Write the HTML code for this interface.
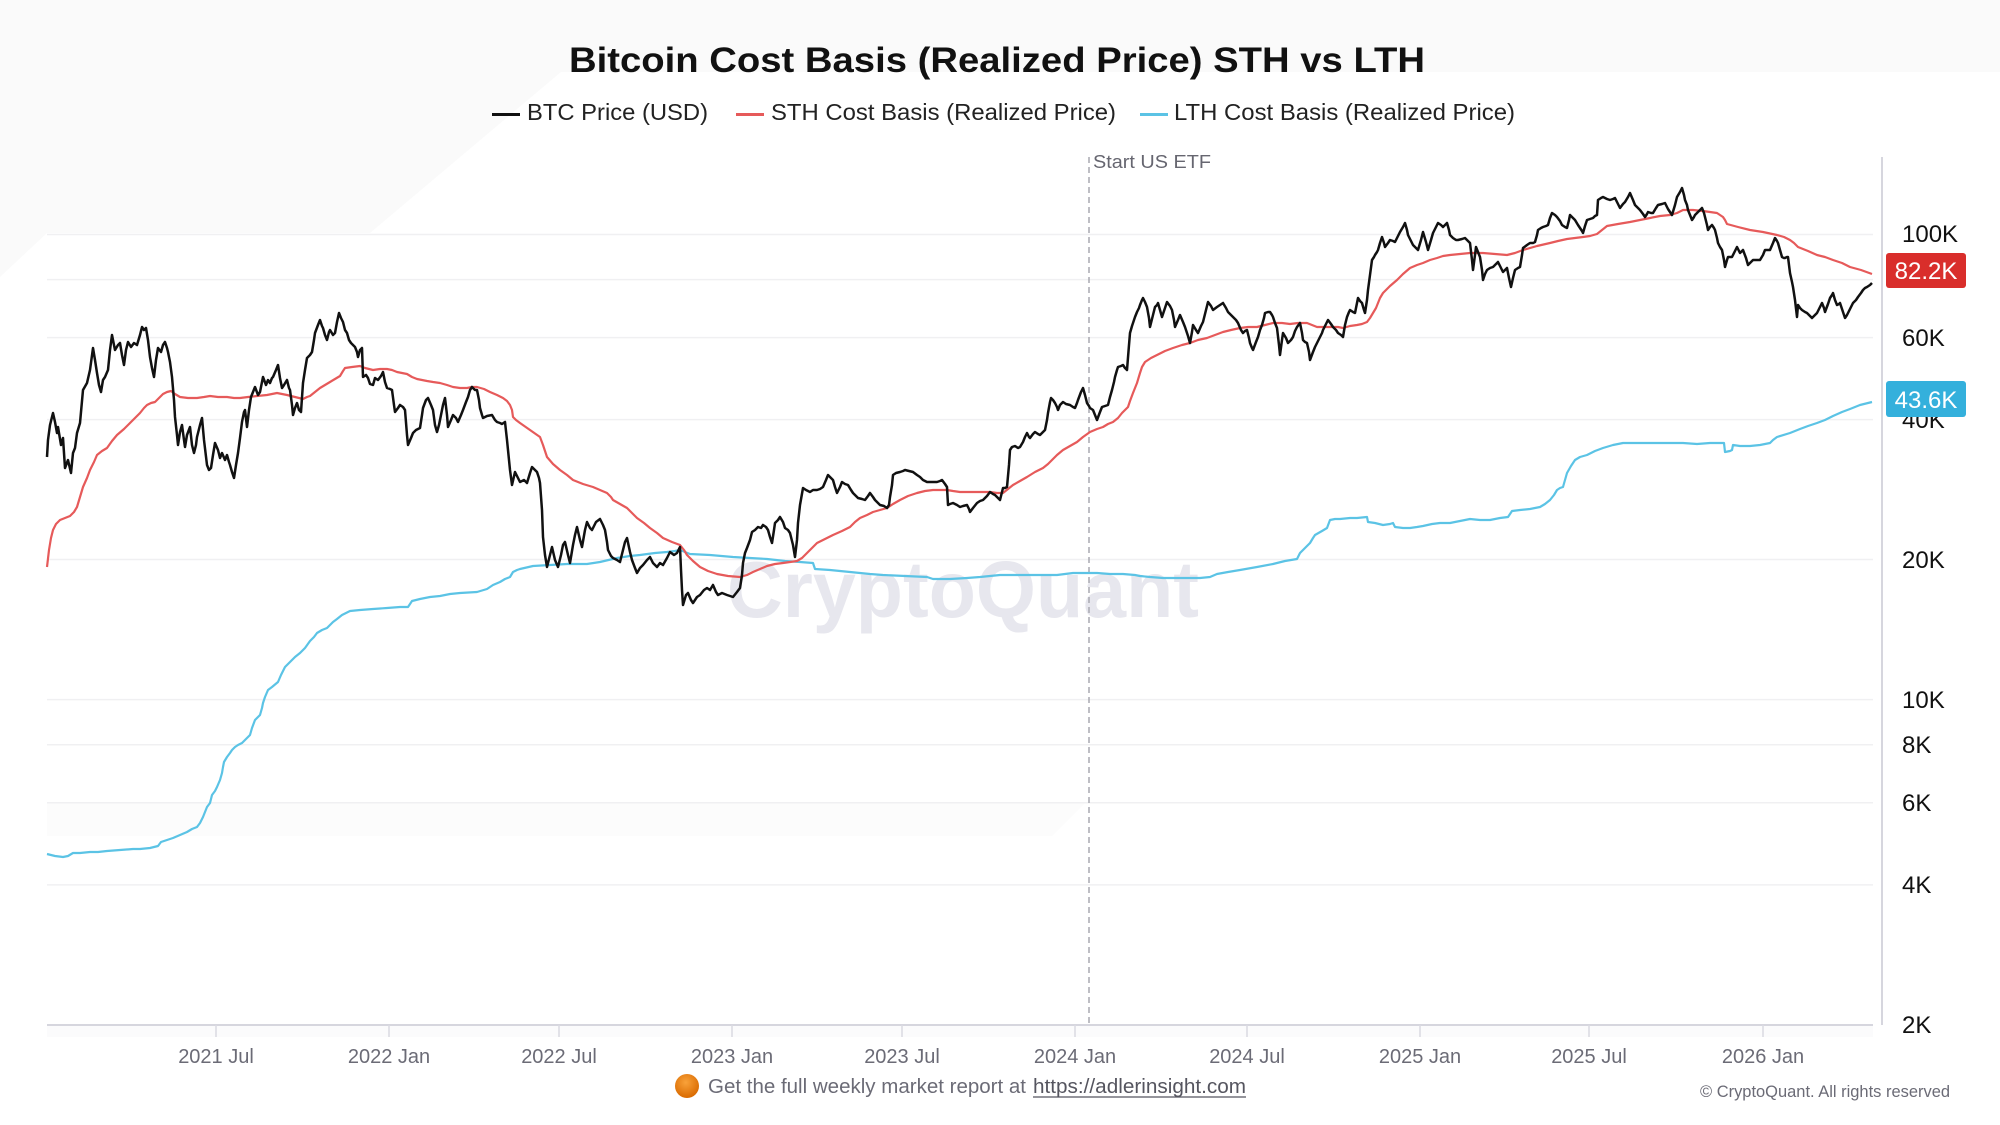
<!DOCTYPE html>
<html>
<head>
<meta charset="utf-8">
<style>
html,body{margin:0;padding:0;background:#fff;}
body{width:2000px;height:1125px;overflow:hidden;}
svg{display:block;font-family:"Liberation Sans",Arial,sans-serif;}
</style>
</head>
<body>
<svg width="2000" height="1125" viewBox="0 0 2000 1125" xmlns="http://www.w3.org/2000/svg">
<rect x="0" y="0" width="2000" height="1125" fill="#ffffff"/>
<!-- faint background shapes -->
<polygon points="0,0 2000,0 2000,72 561,72 370,233 47,233 0,277" fill="#fafafa"/>
<polygon points="47,803 1085,803 1052,836 47,836" fill="#fcfcfc"/>
<rect x="47" y="1026" width="1826" height="11" fill="#fbfbfc"/>

<!-- gridlines -->
<g stroke="#f0f0f2" stroke-width="1.5">
<line x1="47" y1="234.5" x2="1873" y2="234.5"/>
<line x1="47" y1="279.6" x2="1873" y2="279.6"/>
<line x1="47" y1="337.6" x2="1873" y2="337.6"/>
<line x1="47" y1="419.6" x2="1873" y2="419.6"/>
<line x1="47" y1="559.5" x2="1873" y2="559.5"/>
<line x1="47" y1="699.6" x2="1873" y2="699.6"/>
<line x1="47" y1="744.7" x2="1873" y2="744.7"/>
<line x1="47" y1="802.8" x2="1873" y2="802.8"/>
<line x1="47" y1="884.9" x2="1873" y2="884.9"/>
</g>

<!-- watermark -->
<text x="727" y="617" font-size="80" font-weight="bold" fill="#e7e7ee" textLength="472" lengthAdjust="spacingAndGlyphs">CryptoQuant</text>

<!-- ETF line -->
<line x1="1089" y1="157" x2="1089" y2="1025" stroke="#a8a8b0" stroke-width="1.5" stroke-dasharray="6,4"/>
<text x="1093" y="168" font-size="18" fill="#666670" textLength="118" lengthAdjust="spacingAndGlyphs">Start US ETF</text>

<!-- LTH -->
<polyline fill="none" stroke="#5bc3e5" stroke-width="2.2" stroke-linejoin="round" points="47,854 55,856 63,857 68,856 73,853 80,853 90,852 98,852 107,851 120,850 133,849 140,849 150,848 158,846 161,842 167,840 173,838 180,835 187,832 192,829 197,827 200,823 203,817 205,812 207,807 210,803 212,795 215,791 217,787 220,780 222,773 223,767 224,762 227,757 230,753 232,750 235,747 238,745 242,743 246,739 250,735 252,728 255,720 258,717 260,715 262,708 263,703 265,697 268,690 272,687 278,682 281,675 285,667 290,662 295,657 300,653 305,648 310,641 314,637 317,633 322,630 327,628 330,625 333,622 337,619 342,615 346,613 350,611 360,610 373,609 387,608 400,607 408,607 410,604 412,601 420,599 430,597 440,596 450,594 460,593 477,592 487,589 493,585 500,582 505,579 510,577 513,572 517,570 520,569 533,566 550,565 567,564 587,564 600,562 617,558 630,556 640,555 655,553 667,552 675,551 680,550 685,552 690,554 710,555 733,557 750,558 767,559 785,561 800,562 813,563 815,569 830,570 850,572 870,574 883,575 905,576 927,577 933,579 950,579 967,578 980,577 990,576 1000,575 1023,575 1040,575 1057,575 1073,573 1085,573 1097,573 1110,574 1123,574 1135,575 1140,576 1150,577 1163,578 1175,578 1190,578 1200,578 1210,577 1217,574 1228,572 1240,570 1257,567 1273,564 1285,561 1297,559 1300,553 1305,548 1310,543 1313,538 1315,535 1322,531 1327,528 1330,520 1335,519 1340,519 1350,518 1357,518 1367,517 1368,522 1375,523 1383,525 1390,524 1393,523 1395,527 1403,528 1410,528 1417,527 1423,526 1432,524 1440,523 1450,523 1460,521 1470,519 1480,520 1490,520 1500,518 1508,517 1512,511 1520,510 1530,509 1540,507 1545,504 1550,500 1554,495 1557,490 1560,488 1563,487 1565,480 1567,473 1571,466 1575,460 1580,457 1587,455 1595,451 1603,448 1613,445 1623,443 1637,443 1650,443 1667,443 1683,443 1697,444 1710,443 1718,443 1724,443 1725,452 1730,451 1732,450 1733,445 1740,446 1750,446 1760,445 1770,443 1773,440 1777,437 1790,433 1800,429 1808,426 1817,423 1825,420 1833,416 1842,412 1850,409 1860,405 1872,402"/>

<!-- STH -->
<polyline fill="none" stroke="#e65a5a" stroke-width="2.2" stroke-linejoin="round" points="47,567 49,550 51,538 53,530 56,524 60,520 65,518 70,516 74,512 77,507 80,497 83,487 87,478 90,470 94,462 97,455 102,451 107,448 112,441 117,435 124,429 130,423 135,418 140,413 144,408 147,405 151,403 155,402 159,398 163,394 167,392 171,391 175,394 180,397 188,398 197,398 204,397 210,396 218,397 227,397 234,398 240,398 248,397 257,396 267,395 277,393 282,394 287,395 295,397 303,399 307,397 310,396 315,392 320,388 325,385 330,382 335,379 340,376 343,371 345,368 352,367 360,366 365,368 373,370 380,369 387,369 392,370 397,372 402,373 407,374 412,377 417,379 422,380 427,381 433,382 440,383 447,385 453,387 460,388 467,388 472,387 477,387 484,389 490,392 497,395 503,398 507,401 510,405 512,410 513,417 516,420 520,423 530,430 540,437 543,445 547,457 553,464 560,470 567,475 573,480 583,484 593,487 600,490 607,493 611,497 613,500 620,504 627,508 632,513 637,518 644,523 650,528 657,533 663,538 672,542 680,545 684,550 687,555 693,561 700,567 708,571 717,574 728,576 740,577 747,575 753,572 760,569 767,566 775,564 783,563 790,562 797,561 802,558 807,553 812,548 817,543 825,539 833,535 842,531 850,527 855,522 860,518 867,515 873,512 880,510 887,508 893,504 900,500 908,496 917,493 925,491 933,490 940,490 947,490 953,491 960,492 970,492 983,492 990,492 997,493 1003,493 1008,489 1013,485 1020,481 1027,477 1035,472 1043,468 1048,464 1052,460 1057,455 1063,450 1070,446 1077,442 1083,437 1090,432 1097,429 1103,427 1108,424 1113,422 1118,418 1122,413 1125,410 1128,407 1130,401 1133,393 1137,383 1140,373 1142,367 1145,362 1151,358 1157,355 1165,351 1173,348 1182,345 1190,343 1198,340 1207,338 1215,335 1223,332 1231,330 1240,328 1248,327 1257,327 1265,325 1273,323 1282,323 1290,324 1298,323 1307,323 1312,325 1317,327 1325,327 1333,327 1338,327 1343,328 1350,326 1357,325 1362,324 1367,322 1370,318 1373,313 1376,308 1378,303 1380,298 1383,293 1390,286 1397,280 1403,274 1410,268 1417,265 1423,263 1430,260 1437,258 1443,256 1450,255 1460,254 1470,253 1483,253 1495,254 1507,255 1515,253 1523,250 1537,246 1550,243 1558,241 1567,239 1575,238 1583,237 1590,236 1597,234 1602,230 1607,226 1618,224 1630,222 1640,220 1650,218 1660,216 1670,215 1677,213 1683,210 1693,210 1703,211 1710,212 1717,213 1720,215 1723,217 1725,220 1727,224 1738,227 1750,230 1763,232 1777,235 1784,237 1790,240 1794,243 1798,247 1808,251 1817,255 1825,257 1833,260 1842,263 1850,267 1861,270 1872,274"/>

<!-- BTC -->
<polyline fill="none" stroke="#111111" stroke-width="2.5" stroke-linejoin="round" points="47,457 48,440 50,425 53,413 55,422 57,433 58,427 61,445 63,438 65,468 68,460 71,473 73,453 75,448 77,433 80,423 83,390 87,383 90,370 93,348 95,360 97,373 99,385 101,392 103,380 105,377 108,370 110,350 112,335 115,350 118,345 120,343 122,355 124,365 126,350 128,342 131,347 134,343 137,345 140,335 142,327 144,330 146,328 148,340 150,357 152,368 154,377 156,360 158,348 161,352 163,345 165,342 167,348 168,352 170,362 172,377 174,400 175,417 177,435 178,445 180,432 182,425 184,440 185,447 187,435 190,427 192,445 194,453 196,445 197,437 200,425 202,418 204,440 207,465 209,470 211,468 213,455 215,443 218,450 220,458 222,453 225,460 227,455 229,462 230,465 232,472 234,478 236,465 238,453 240,438 242,422 244,412 245,410 247,427 249,410 251,397 253,392 255,387 258,395 260,392 262,382 263,377 266,385 268,380 270,383 272,378 273,377 276,370 278,365 280,378 282,388 284,385 287,380 289,388 290,390 292,405 293,415 295,408 297,403 299,410 301,412 303,383 305,370 307,358 310,355 312,352 314,340 315,333 318,325 320,320 322,326 323,328 325,335 327,340 329,332 330,330 333,335 335,333 337,322 339,313 341,318 343,322 345,330 347,333 349,340 351,343 353,345 355,347 357,352 358,357 360,350 362,348 363,377 366,375 368,378 370,384 373,385 375,378 378,380 381,376 383,372 385,382 387,388 390,389 392,390 394,405 395,412 398,408 400,405 403,407 405,410 407,435 408,445 411,438 413,433 416,430 420,428 422,415 423,408 426,400 428,398 431,405 433,410 435,425 437,432 439,425 440,420 443,405 445,398 447,415 448,427 451,420 453,415 456,418 458,422 461,415 463,410 466,402 468,397 470,390 472,387 475,390 477,390 479,400 480,408 482,415 483,418 487,416 492,415 495,420 497,422 500,423 502,424 505,422 507,440 508,450 510,470 512,485 515,472 518,478 520,482 524,480 527,483 530,473 532,467 535,470 537,472 539,478 540,483 542,510 543,537 545,555 547,567 550,555 552,547 555,560 558,567 561,555 563,545 565,542 568,555 570,563 573,545 575,535 577,527 580,540 582,547 585,530 587,522 590,528 592,530 596,522 600,519 603,525 605,530 607,542 608,550 611,556 613,558 617,560 620,562 623,550 625,542 627,538 630,552 632,560 635,568 637,573 640,568 643,565 647,560 650,557 653,563 657,567 660,563 663,565 667,558 670,552 674,555 677,553 680,547 681,570 682,590 683,605 686,595 688,593 691,600 693,603 697,597 700,595 704,590 707,588 710,590 713,585 716,592 718,595 722,593 727,595 730,596 733,597 737,592 740,588 742,575 743,563 745,553 747,548 750,540 752,532 755,530 758,527 761,528 763,525 766,527 768,530 770,537 772,543 774,530 775,523 778,520 780,517 783,522 785,528 788,530 790,533 793,545 795,557 797,540 798,523 800,505 803,488 806,490 810,492 813,490 817,490 820,489 823,487 826,480 828,475 831,478 833,480 835,487 837,493 840,487 842,482 845,484 848,485 851,490 853,493 856,496 858,498 862,499 865,500 868,496 870,493 873,497 875,500 878,503 880,505 884,506 887,508 889,505 890,497 892,485 893,475 896,473 900,472 903,471 905,470 909,471 913,472 917,475 920,477 923,480 927,482 932,482 937,482 940,481 942,480 945,484 947,487 948,505 950,504 953,503 957,505 960,507 963,506 967,505 969,509 970,512 973,508 977,503 980,501 983,500 987,496 990,492 993,494 995,495 998,498 1000,500 1002,492 1003,488 1005,488 1007,487 1009,465 1010,450 1012,447 1015,446 1018,448 1020,447 1023,442 1025,437 1027,433 1029,437 1030,438 1033,434 1035,432 1038,434 1040,435 1043,432 1045,430 1047,420 1048,413 1050,402 1051,398 1053,400 1055,403 1057,407 1058,410 1060,405 1063,402 1066,404 1070,405 1073,407 1075,408 1077,403 1078,400 1081,392 1083,388 1085,395 1087,403 1089,406 1090,408 1093,410 1095,415 1097,420 1100,412 1102,407 1105,406 1108,405 1110,397 1112,390 1114,382 1115,377 1117,370 1118,367 1121,366 1123,365 1125,368 1127,370 1129,345 1130,333 1132,326 1133,323 1135,317 1137,312 1139,308 1140,305 1142,300 1143,298 1145,302 1147,307 1149,318 1150,327 1153,315 1155,307 1157,305 1158,303 1160,310 1162,317 1165,308 1167,302 1170,306 1172,310 1174,320 1175,327 1178,320 1180,315 1183,322 1185,327 1188,336 1190,343 1192,332 1193,325 1196,330 1198,333 1201,326 1203,322 1206,310 1208,302 1211,306 1213,310 1217,307 1220,305 1223,303 1226,308 1228,312 1231,315 1233,317 1236,320 1238,323 1241,330 1243,333 1245,331 1247,330 1249,338 1250,343 1252,348 1253,350 1256,342 1258,337 1260,330 1262,325 1264,318 1265,313 1268,312 1270,312 1272,315 1273,317 1275,323 1277,328 1279,345 1280,355 1282,340 1283,333 1286,338 1288,343 1291,340 1293,337 1295,331 1297,327 1300,323 1302,333 1303,340 1305,342 1307,343 1309,352 1310,360 1313,352 1315,347 1318,341 1320,337 1322,333 1323,330 1326,324 1328,320 1331,324 1333,327 1336,330 1338,333 1341,335 1343,337 1345,325 1347,317 1349,312 1350,310 1353,312 1355,313 1357,303 1358,298 1360,301 1362,303 1364,310 1365,313 1367,300 1368,290 1370,275 1372,260 1374,257 1375,255 1377,252 1378,250 1380,243 1382,237 1384,243 1385,247 1388,243 1390,240 1393,241 1395,242 1398,236 1400,232 1403,227 1405,223 1407,230 1408,235 1411,241 1413,245 1416,248 1418,250 1421,240 1423,232 1426,242 1428,250 1431,240 1433,233 1436,227 1438,223 1441,225 1443,227 1445,225 1447,223 1449,230 1450,235 1453,238 1456,240 1458,240 1462,239 1465,238 1468,241 1470,243 1472,260 1473,270 1475,255 1476,247 1478,252 1480,257 1482,270 1483,280 1485,274 1487,270 1490,268 1493,267 1496,264 1498,262 1501,268 1503,272 1505,270 1507,268 1509,278 1511,287 1513,278 1515,270 1518,268 1520,267 1522,255 1523,248 1527,245 1530,243 1533,243 1535,242 1537,235 1538,230 1541,228 1543,227 1546,226 1548,225 1550,218 1552,213 1555,215 1557,217 1560,221 1562,225 1565,227 1567,228 1569,220 1570,215 1573,218 1575,220 1578,225 1580,228 1582,231 1583,233 1585,226 1587,220 1590,219 1593,218 1595,216 1597,215 1598,200 1601,198 1603,197 1607,199 1610,200 1613,199 1615,198 1618,204 1620,208 1623,204 1625,202 1628,197 1630,193 1633,200 1635,205 1638,208 1640,210 1643,214 1645,217 1647,214 1648,212 1651,213 1653,213 1656,208 1658,205 1662,204 1665,203 1668,209 1672,215 1675,205 1677,197 1680,192 1682,188 1684,195 1685,200 1687,205 1688,210 1690,215 1692,220 1694,217 1695,215 1697,213 1698,212 1700,210 1702,208 1704,213 1705,217 1707,225 1708,230 1710,227 1712,225 1714,228 1715,230 1717,238 1718,243 1720,247 1722,250 1724,260 1725,267 1727,260 1728,257 1730,257 1732,257 1735,251 1737,247 1739,251 1740,253 1742,251 1743,250 1746,258 1748,265 1751,262 1753,260 1757,260 1760,260 1763,255 1765,250 1768,250 1770,250 1773,243 1775,238 1777,241 1778,243 1780,250 1782,257 1784,258 1785,258 1787,257 1788,257 1789,265 1790,273 1792,282 1793,287 1795,300 1797,317 1798,305 1800,308 1802,310 1805,312 1807,313 1810,316 1812,318 1815,315 1817,313 1820,307 1822,303 1824,308 1825,312 1828,304 1830,298 1832,295 1833,293 1835,300 1837,305 1839,304 1840,303 1843,312 1845,318 1847,315 1848,313 1851,307 1853,303 1856,300 1858,297 1861,293 1863,290 1865,288 1867,287 1870,285 1872,283"/>

<!-- axes -->
<line x1="47" y1="1025" x2="1873" y2="1025" stroke="#d6d6de" stroke-width="2"/>
<line x1="1882" y1="157" x2="1882" y2="1025" stroke="#d6d6de" stroke-width="2"/>
<g stroke="#dadae2" stroke-width="1.5">
<line x1="216" y1="1025" x2="216" y2="1037"/>
<line x1="389" y1="1025" x2="389" y2="1037"/>
<line x1="559" y1="1025" x2="559" y2="1037"/>
<line x1="732" y1="1025" x2="732" y2="1037"/>
<line x1="902" y1="1025" x2="902" y2="1037"/>
<line x1="1075" y1="1025" x2="1075" y2="1037"/>
<line x1="1247" y1="1025" x2="1247" y2="1037"/>
<line x1="1420" y1="1025" x2="1420" y2="1037"/>
<line x1="1589" y1="1025" x2="1589" y2="1037"/>
<line x1="1763" y1="1025" x2="1763" y2="1037"/>
</g>

<!-- x labels -->
<g font-size="20" fill="#6b6b76" text-anchor="middle">
<text x="216" y="1063">2021 Jul</text>
<text x="389" y="1063">2022 Jan</text>
<text x="559" y="1063">2022 Jul</text>
<text x="732" y="1063">2023 Jan</text>
<text x="902" y="1063">2023 Jul</text>
<text x="1075" y="1063">2024 Jan</text>
<text x="1247" y="1063">2024 Jul</text>
<text x="1420" y="1063">2025 Jan</text>
<text x="1589" y="1063">2025 Jul</text>
<text x="1763" y="1063">2026 Jan</text>
</g>

<!-- y labels -->
<g font-size="24" fill="#111111">
<text x="1902" y="242">100K</text>
<text x="1902" y="346">60K</text>
<text x="1902" y="428">40K</text>
<text x="1902" y="568">20K</text>
<text x="1902" y="708">10K</text>
<text x="1902" y="753">8K</text>
<text x="1902" y="811">6K</text>
<text x="1902" y="893">4K</text>
<text x="1902" y="1033">2K</text>
</g>

<!-- badges -->
<rect x="1886" y="253" width="80" height="35" rx="3" fill="#d92e2b"/>
<text x="1926" y="279" font-size="24" fill="#ffffff" text-anchor="middle">82.2K</text>
<rect x="1886" y="381" width="80" height="36" rx="3" fill="#34b0dc"/>
<text x="1926" y="408" font-size="24" fill="#ffffff" text-anchor="middle">43.6K</text>

<!-- title -->
<text x="569" y="72" font-size="35" font-weight="bold" fill="#111111" textLength="856" lengthAdjust="spacingAndGlyphs">Bitcoin Cost Basis (Realized Price) STH vs LTH</text>

<!-- legend -->
<line x1="492" y1="114.5" x2="520" y2="114.5" stroke="#111111" stroke-width="3"/>
<text x="527" y="120" font-size="23" fill="#222222" textLength="181" lengthAdjust="spacingAndGlyphs">BTC Price (USD)</text>
<line x1="736" y1="114.5" x2="764" y2="114.5" stroke="#e65a5a" stroke-width="3"/>
<text x="771" y="120" font-size="23" fill="#222222" textLength="345" lengthAdjust="spacingAndGlyphs">STH Cost Basis (Realized Price)</text>
<line x1="1140" y1="114.5" x2="1168" y2="114.5" stroke="#5bc3e5" stroke-width="3"/>
<text x="1174" y="120" font-size="23" fill="#222222" textLength="341" lengthAdjust="spacingAndGlyphs">LTH Cost Basis (Realized Price)</text>

<!-- footer -->
<defs>
<radialGradient id="og" cx="45%" cy="35%" r="65%">
<stop offset="0" stop-color="#f9a23a"/>
<stop offset="1" stop-color="#d96a00"/>
</radialGradient>
</defs>
<circle cx="687" cy="1086" r="12" fill="url(#og)"/>
<text x="708" y="1093" font-size="20" fill="#6b6b76" textLength="318" lengthAdjust="spacingAndGlyphs">Get the full weekly market report at</text>
<text x="1033" y="1093" font-size="20" fill="#55555f" textLength="213" lengthAdjust="spacingAndGlyphs">https://adlerinsight.com</text>
<line x1="1033" y1="1097" x2="1246" y2="1097" stroke="#55555f" stroke-width="1.3"/>
<text x="1700" y="1097" font-size="17" fill="#6b6b76" textLength="250" lengthAdjust="spacingAndGlyphs">© CryptoQuant. All rights reserved</text>
</svg>
</body>
</html>
